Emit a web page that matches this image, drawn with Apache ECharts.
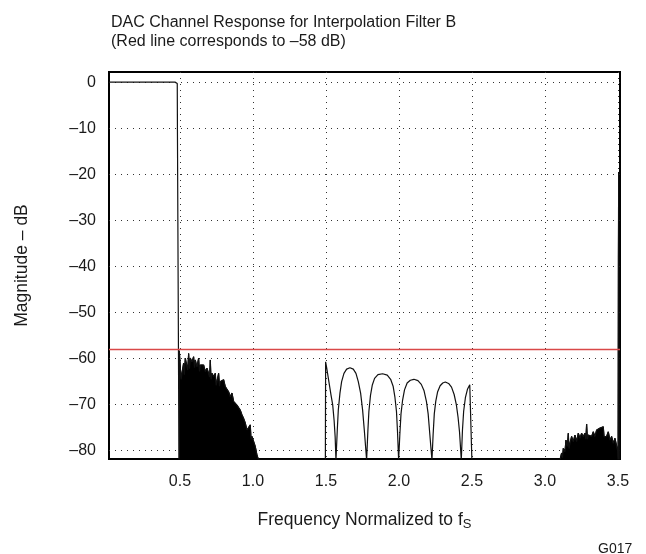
<!DOCTYPE html>
<html>
<head>
<meta charset="utf-8">
<script src="https://cdn.jsdelivr.net/npm/echarts@6/dist/echarts.min.js"></script>
<style>html,body{margin:0;padding:0;background:#fff;}#chart{width:646px;height:554px;}</style>
</head>
<body>
<div id="chart"></div>
<script>
// ---- data (frequency normalized to fs, magnitude dB) ----
var xTicks = [0.5, 1.0, 1.5, 2.0, 2.5, 3.0, 3.5];
var yTicks = [0, -10, -20, -30, -40, -50, -60, -70, -80];
var redLineDb = -58;

var passband = [[0.014,0],[0.466,0],[0.4815,-0.3],[0.4829,-11.5],[0.4932,-11.5],[0.4932,-82]];

var stopband1 = [[0.4954,-82],[0.4954,-58.3],[0.5023,-58.5],[0.5080,-64.5],[0.5137,-63.2],[0.5251,-61.0],[0.5300,-63.5],[0.5365,-59.9],[0.5479,-60.3],[0.5530,-62.5],[0.5594,-58.9],[0.5650,-62.2],[0.5708,-59.9],[0.5822,-60.7],[0.5936,-59.6],[0.6000,-62.0],[0.6050,-60.3],[0.6164,-61.8],[0.6279,-59.9],[0.6340,-62.8],[0.6393,-61.4],[0.6507,-61.8],[0.6621,-61.4],[0.6735,-62.8],[0.6849,-62.1],[0.6963,-63.2],[0.7030,-64.0],[0.7078,-60.3],[0.7130,-64.5],[0.7192,-63.2],[0.7306,-63.9],[0.7420,-63.2],[0.7480,-65.8],[0.7534,-65.4],[0.7648,-63.2],[0.7710,-66.0],[0.7763,-65.0],[0.7877,-65.4],[0.7991,-64.6],[0.8105,-66.1],[0.8219,-65.7],[0.8333,-67.2],[0.8447,-68.3],[0.8562,-67.5],[0.8676,-69.3],[0.8790,-69.7],[0.8904,-70.1],[0.9018,-70.4],[0.9132,-71.2],[0.9247,-72.2],[0.9361,-73.0],[0.9475,-74.0],[0.9589,-75.5],[0.9703,-75.2],[0.9817,-74.4],[0.9870,-77.5],[0.9932,-76.9],[1.0046,-76.9],[1.0160,-79.1],[1.0274,-80.9],[1.0388,-82]];

var lobes = [[1.4960,-82],[1.4977,-60.7],[1.5050,-62.0],[1.5200,-65.0],[1.5350,-68.0],[1.5460,-70.0],[1.5560,-73.5],[1.5630,-77.0],[1.5685,-82],
[1.5776,-75.5],[1.5845,-71.2],[1.5959,-67.5],[1.6073,-65.0],[1.6233,-63.2],[1.6416,-62.3],[1.6644,-62.0],[1.6872,-62.3],[1.7055,-63.2],[1.7215,-65.0],[1.7374,-67.5],[1.7511,-71.2],[1.7626,-75.5],[1.7785,-82],
[1.7870,-75.8],[1.7940,-71.5],[1.8050,-68.0],[1.8170,-65.8],[1.8330,-64.3],[1.8560,-63.5],[1.8880,-63.3],[1.9200,-63.6],[1.9430,-64.5],[1.9600,-66.0],[1.9720,-68.3],[1.9830,-71.5],[1.9900,-75.8],[1.9977,-82],
[2.0060,-76.5],[2.0140,-72.0],[2.0250,-69.0],[2.0380,-66.8],[2.0560,-65.3],[2.0780,-64.7],[2.1027,-64.5],[2.1300,-64.8],[2.1530,-65.6],[2.1720,-67.0],[2.1880,-69.3],[2.2000,-72.0],[2.2090,-75.5],[2.2180,-79.0],[2.2260,-82],
[2.2340,-76.5],[2.2420,-72.0],[2.2520,-69.3],[2.2650,-67.2],[2.2820,-65.9],[2.3000,-65.3],[2.3174,-65.1],[2.3400,-65.4],[2.3600,-66.2],[2.3780,-67.8],[2.3930,-70.0],[2.4050,-72.8],[2.4150,-76.0],[2.4269,-82],
[2.4350,-75.5],[2.4430,-71.5],[2.4550,-68.5],[2.4700,-66.6],[2.4850,-65.7],[2.4977,-65.4],[2.4995,-82]];

var stopband3 = [[3.1027,-82],[3.1142,-80.5],[3.1200,-81.5],[3.1256,-79.5],[3.1370,-80.2],[3.1438,-77.7],[3.1530,-79.1],[3.1598,-76.2],[3.1650,-79.5],[3.1712,-78.4],[3.1826,-76.9],[3.1940,-78.0],[3.2055,-76.6],[3.2169,-78.0],[3.2283,-76.2],[3.2397,-77.3],[3.2511,-76.2],[3.2626,-76.9],[3.2740,-76.2],[3.2800,-77.5],[3.2854,-74.2],[3.2910,-77.5],[3.2968,-76.6],[3.3082,-76.2],[3.3196,-76.9],[3.3310,-75.9],[3.3425,-76.9],[3.3539,-75.5],[3.3653,-75.9],[3.3767,-75.1],[3.3881,-75.5],[3.3995,-74.8],[3.4050,-77.0],[3.4110,-76.6],[3.4224,-76.9],[3.4338,-75.9],[3.4452,-77.7],[3.4566,-76.9],[3.4680,-78.4],[3.4795,-77.3],[3.4909,-76.9],[3.4980,-80.0],[3.5010,-82],[3.5030,-38],[3.5050,-19.5],[3.5080,-82]];

// ---- chart ----
var fullTrace = passband.concat(stopband1, lobes, stopband3);
var FONT = 'Liberation Sans, Arial, sans-serif';
var TXT = '#1a1a1a';

var chart = echarts.init(document.getElementById('chart'), null, {renderer: 'canvas'});
chart.setOption({
  animation: false,
  backgroundColor: '#fff',
  title: {
    text: 'DAC Channel Response for Interpolation Filter B\n(Red line corresponds to \u201358 dB)',
    left: 106, top: 8,
    textStyle: {fontFamily: FONT, fontSize: 16, fontWeight: 'normal', color: TXT, lineHeight: 19}
  },
  grid: {left: 109, right: 26, top: 72, bottom: 95, show: true, borderColor: '#000', borderWidth: 2, backgroundColor: 'transparent'},
  xAxis: {
    type: 'value', min: 0.014, max: 3.514,
    name: 'Frequency Normalized to f{sub|S}',
    nameLocation: 'middle', nameGap: 50,
    nameTextStyle: {fontFamily: FONT, fontSize: 17.5, color: TXT,
      rich: {sub: {fontFamily: FONT, fontSize: 13, color: TXT, verticalAlign: 'bottom', padding: [9, 0, 0, 0]}}},
    axisLine: {show: false},
    axisTick: {show: false, customValues: xTicks},
    axisLabel: {customValues: xTicks, fontFamily: FONT, fontSize: 16, color: TXT, margin: 15,
      formatter: function (v) { return v.toFixed(1); }},
    splitLine: {show: true, lineStyle: {color: '#333', type: [1, 5], width: 1}}
  },
  yAxis: {
    type: 'value', min: -81.8, max: 2.2,
    name: 'Magnitude \u2013 dB',
    nameLocation: 'middle', nameGap: 78, nameRotate: 90,
    nameTextStyle: {fontFamily: FONT, fontSize: 17.5, color: TXT},
    axisLine: {show: false},
    axisTick: {show: false, customValues: yTicks},
    axisLabel: {customValues: yTicks, fontFamily: FONT, fontSize: 16, color: TXT, margin: 13,
      formatter: function (v) { return v === 0 ? '0' : '\u2013' + Math.abs(v); }},
    splitLine: {show: true, lineStyle: {color: '#333', type: [1, 5], width: 1}}
  },
  series: [
    {type: 'line', data: stopband1, showSymbol: false, symbol: 'none', silent: true,
      lineStyle: {color: '#000', width: 1}, areaStyle: {color: '#000', opacity: 1, origin: 'start'}},
    {type: 'line', data: stopband3, showSymbol: false, symbol: 'none', silent: true,
      lineStyle: {color: '#000', width: 1}, areaStyle: {color: '#000', opacity: 1, origin: 'start'}},
    {type: 'line', data: fullTrace, showSymbol: false, symbol: 'none', silent: true,
      lineStyle: {color: '#111', width: 1.2},
      markLine: {silent: true, symbol: 'none', label: {show: false},
        lineStyle: {color: '#d94848', type: 'solid', width: 1.3},
        data: [{yAxis: redLineDb}]}}
  ],
  graphic: [
    {type: 'text', left: 598, top: 542, style: {text: 'G017', font: '14px ' + FONT, fill: TXT}}
  ]
});
</script>
</body>
</html>
